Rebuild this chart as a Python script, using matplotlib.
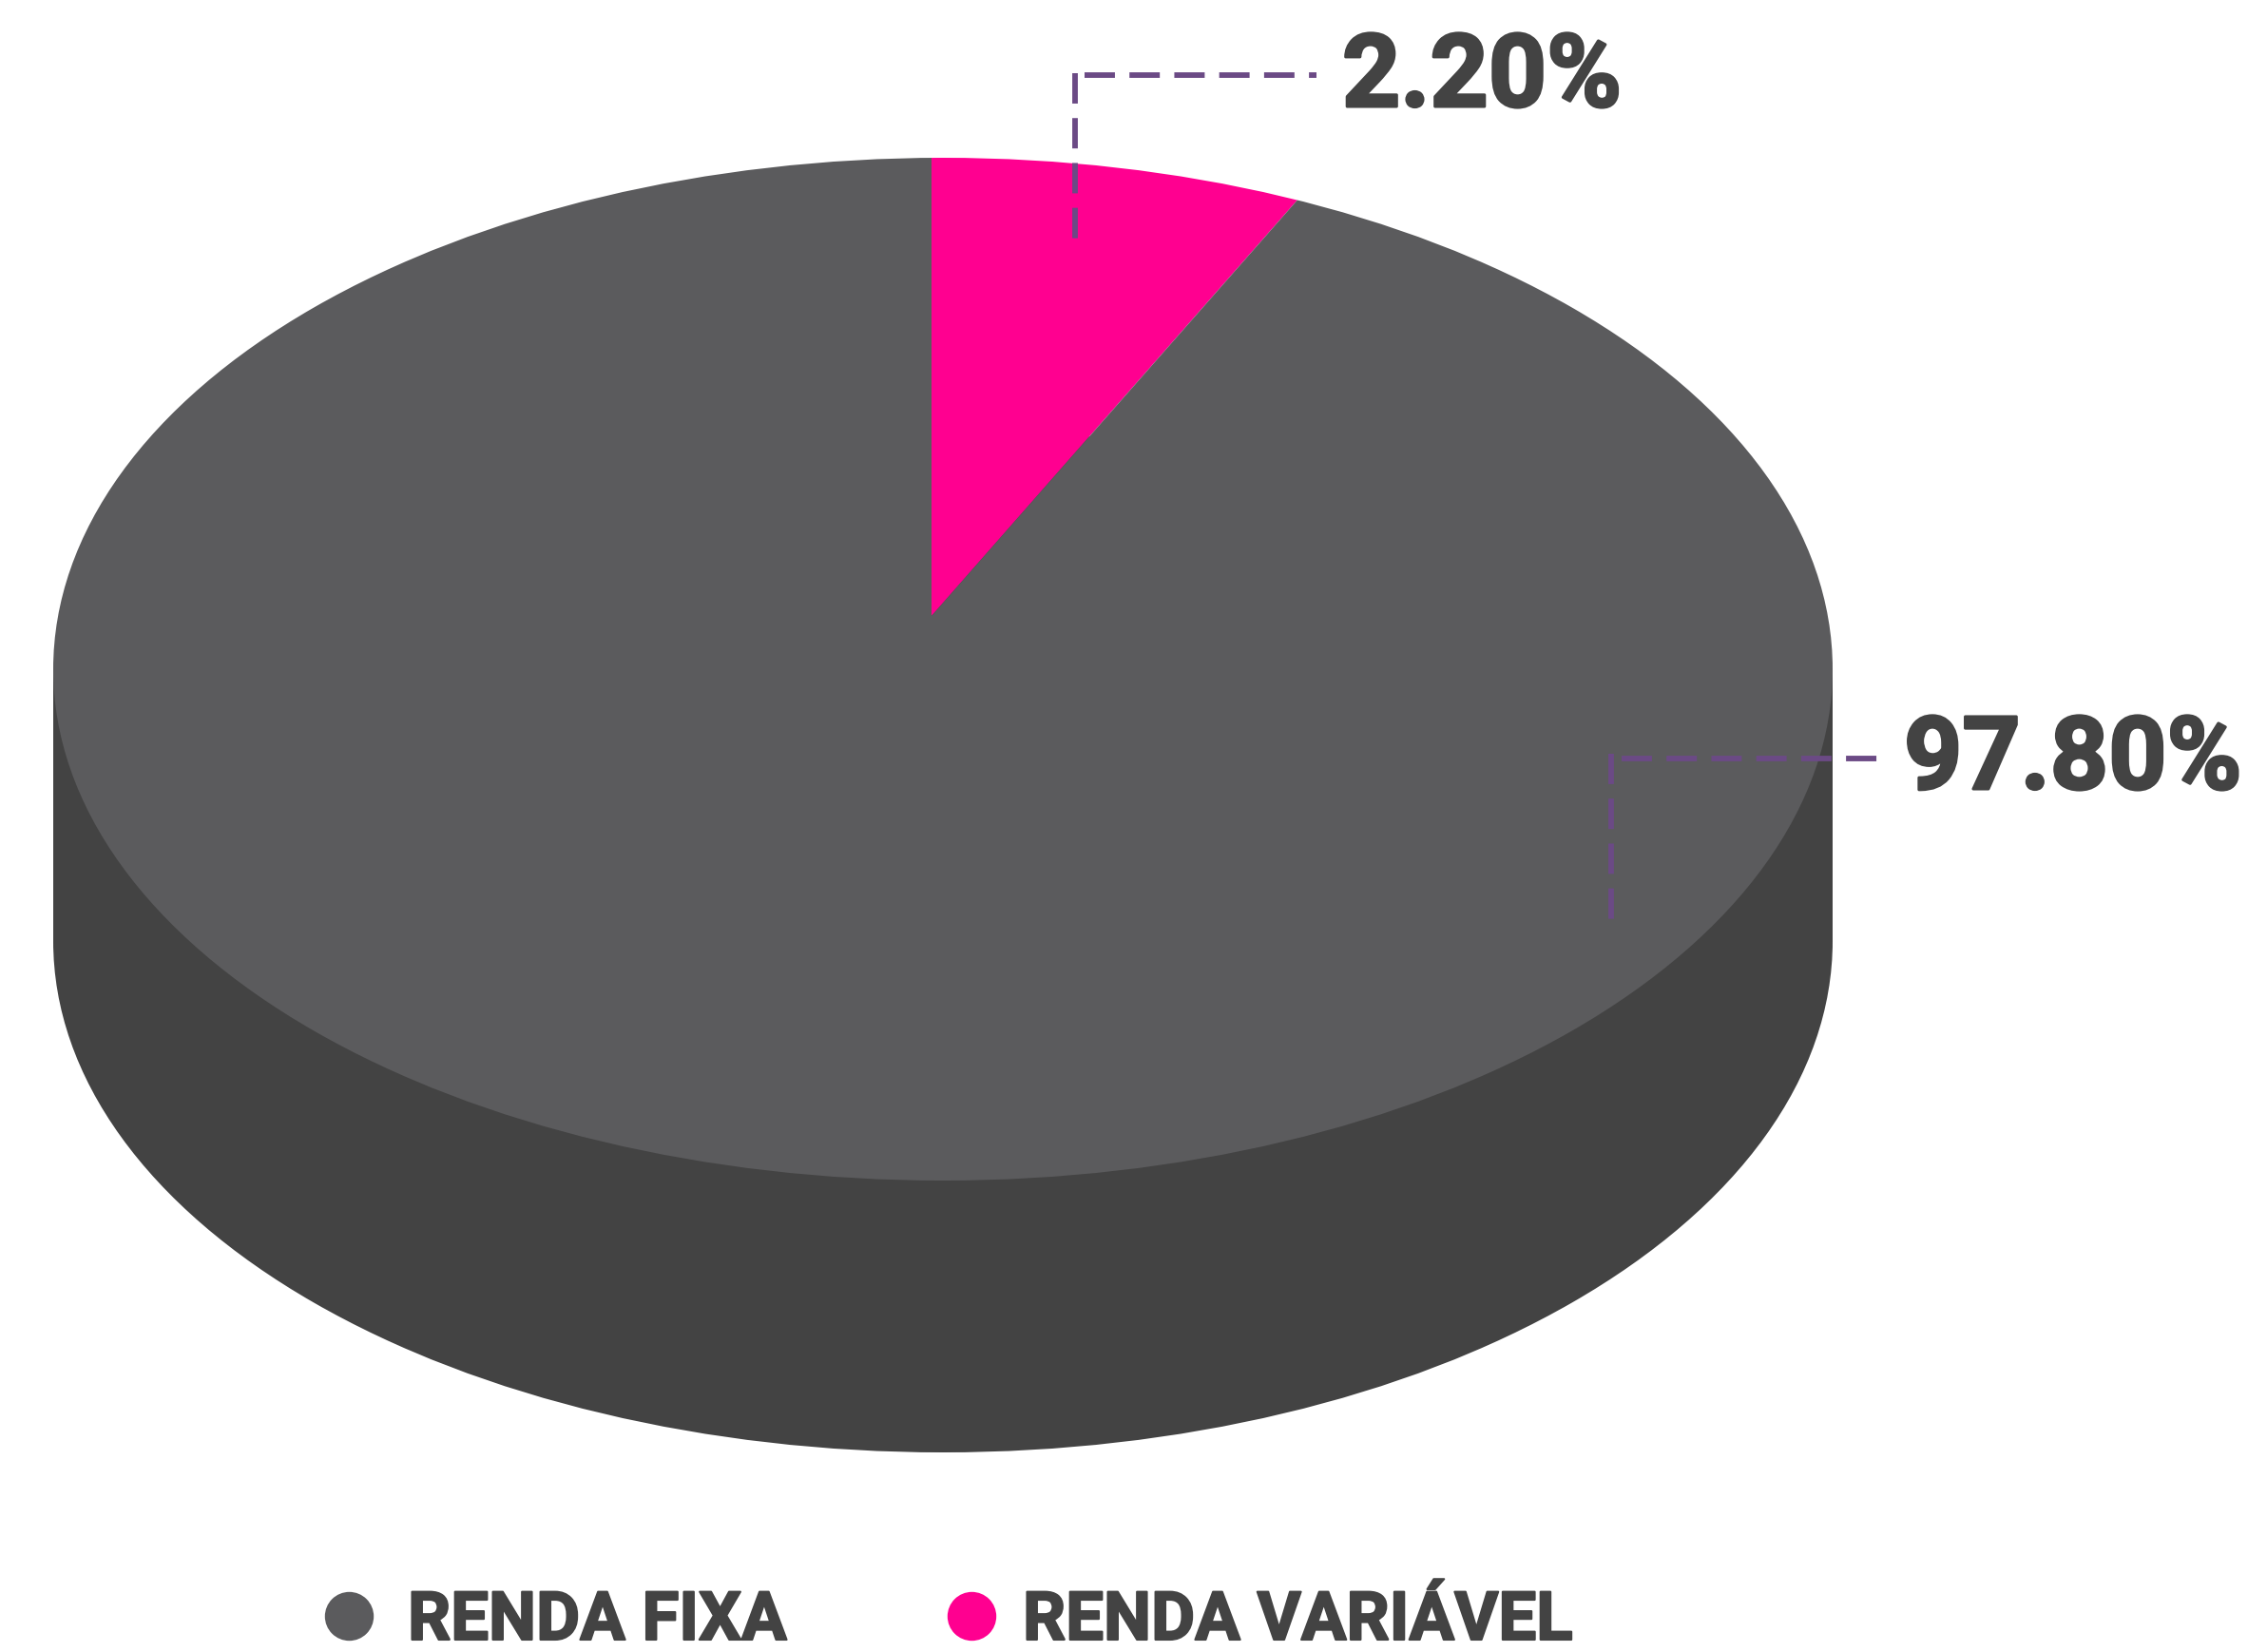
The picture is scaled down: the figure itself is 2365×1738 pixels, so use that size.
import matplotlib
matplotlib.use('Agg')
import matplotlib.pyplot as plt
import matplotlib.patheffects as pe
from matplotlib.patches import Ellipse, Rectangle
from matplotlib.transforms import Affine2D

plt.rcParams['font.family'] = ['Roboto', 'DejaVu Sans']
plt.rcParams['lines.scale_dashes'] = False

# data
categories = ['RENDA VARIÁVEL', 'RENDA FIXA']
labels = ['2.20%', '97.80%']
drawn_shares = [7.45, 92.55]  # slice sizes as drawn in the picture
colors = ['#ff0090', '#5b5b5d']

dark = '#434343'
purple = '#6b4a85'

W, H = 2365, 1738
fig = plt.figure(figsize=(W / 100, H / 100), dpi=100, facecolor='white')
ax = fig.add_axes([0, 0, 1, 1])

# disc geometry in reference pixels
cx, cy, a, b, depth = 992, 704, 936, 538, 286
apex_x, apex_y = 980, 648

# side of the disc
ax.add_patch(Ellipse((cx, cy + depth), 2 * a, 2 * b, color=dark, lw=0))
ax.add_patch(Rectangle((cx - a, cy), 2 * a, depth, color=dark, lw=0))

# top face: the pie, squashed and clipped to the ellipse
top = Ellipse((cx, cy), 2 * a, 2 * b, fc='none', ec='none')
ax.add_patch(top)
wedges, _ = ax.pie(drawn_shares, colors=colors, startangle=90, counterclock=False,
                   wedgeprops={'linewidth': 0})
squash = Affine2D().scale(1.6 * a, -1.6 * b).translate(apex_x, apex_y)
for w in wedges:
    w.set_transform(squash + ax.transData)
    w.set_clip_on(True)
    w.set_clip_path(top)

ax.set_aspect('auto')
ax.set_xlim(0, W)
ax.set_ylim(H, 0)
ax.axis('off')

# leader lines
lw = 4.2
dash = (0, (23, 11))
for xs, ys in [([1141, 1385], [79, 79]), ([1131, 1131], [77, 252]),
               ([1706, 1975], [798, 798]), ([1695, 1695], [793, 973])]:
    ax.plot(xs, ys, color=purple, lw=lw, ls=dash, dash_capstyle='butt')

# value labels, stroke makes the face as heavy as the original
heavy = [pe.withStroke(linewidth=2.2, foreground=dark)]
ax.text(1412, 112, labels[0], fontsize=77, fontweight='bold', color=dark,
        ha='left', va='baseline', path_effects=heavy)
ax.text(2003, 830, labels[1], fontsize=77, fontweight='bold', color=dark,
        ha='left', va='baseline', path_effects=heavy)

# legend
thick = [pe.withStroke(linewidth=1.5, foreground=dark)]
ax.plot([367], [1700], 'o', ms=37, color=colors[1], mew=0)
ax.plot([1022], [1700], 'o', ms=37, color=colors[0], mew=0)
ax.text(429, 1725, categories[1], fontsize=51, fontweight='bold', color=dark,
        ha='left', va='baseline', path_effects=thick)
ax.text(1076, 1725, categories[0], fontsize=51, fontweight='bold', color=dark,
        ha='left', va='baseline', path_effects=thick)

plt.savefig('out.png', dpi=100)
plt.close()
